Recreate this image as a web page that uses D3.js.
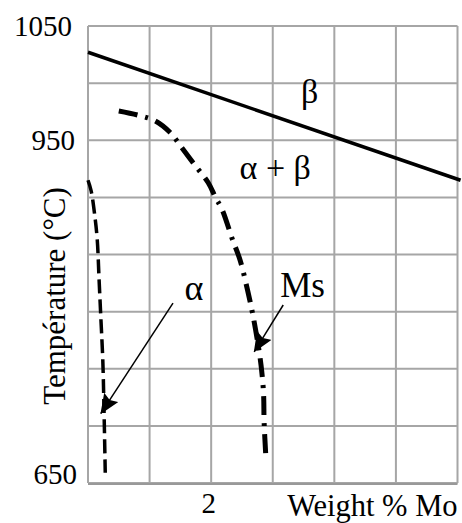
<!DOCTYPE html>
<html><head><meta charset="utf-8">
<script src="https://cdn.jsdelivr.net/npm/d3@7"></script>
<style>
html,body{margin:0;padding:0;background:#fff;}
</style></head>
<body>
<script>
// ---- data ----
const xTickValues = [2];
const yTickValues = [650, 950, 1050];
const xGrid = [0, 1, 2, 3, 4, 5, 6];
const yGrid = [650, 700, 750, 800, 850, 900, 950, 1000, 1050];
const betaMo = [0, 6.05];
const betaT  = [1027, 915];
const msMo = [0.50, 0.81, 1.09, 1.33, 1.53, 1.74, 1.95, 2.07, 2.18, 2.34, 2.47, 2.59, 2.67, 2.75, 2.81, 2.85, 2.86, 2.89];
const msT  = [975.6, 972, 967, 957, 943, 928, 913, 900, 889, 864, 845, 819, 799, 775, 753, 729, 703, 671];
const alphaMo = [0, 0.05, 0.11, 0.15, 0.18, 0.21, 0.24, 0.26, 0.28];
const alphaT  = [915, 906, 884, 863, 828, 793, 758, 714, 659];
const labelText = ["β", "α + β", "α", "Ms"];
const labelMo   = [3.6, 3.04, 1.72, 3.12];
const labelT    = [982.6, 916, 810, 812.8];
const arrowFromMo = [1.38, 3.17];
const arrowFromT  = [807.5, 805.8];
const arrowToMo   = [0.21, 2.70];
const arrowToT    = [711, 765];

const FONT = "Liberation Serif";
const W = 462, H = 523;
const svg = d3.select("body").append("svg").attr("width", W).attr("height", H);
const x = d3.scaleLinear().domain([0, 6]).range([88, 457.5]);
const y = d3.scaleLinear().domain([650, 1050]).range([483, 26]);

// grid
const grid = svg.append("g");
grid.selectAll("line.v").data(xGrid).join("line")
  .attr("x1", d => x(d)).attr("x2", d => x(d)).attr("y1", y(1050)).attr("y2", y(650))
  .attr("stroke", "#a6a6a6").attr("stroke-width", 2);
grid.selectAll("line.h").data(yGrid).join("line")
  .attr("y1", d => y(d)).attr("y2", d => y(d)).attr("x1", x(0)).attr("x2", x(6))
  .attr("stroke", "#a6a6a6").attr("stroke-width", 2);
svg.append("line").attr("x1", x(0)).attr("x2", x(6)).attr("y1", y(650)+1).attr("y2", y(650)+1)
  .attr("stroke", "#999").attr("stroke-width", 2);

// axes (labels only)
const ya = svg.append("g").attr("transform", `translate(${x(0)},0)`)
  .call(d3.axisLeft(y).tickValues(yTickValues).tickSize(0).tickPadding(13).tickFormat(d3.format("d")));
ya.attr("font-family", FONT).attr("font-size", 29);
ya.select(".domain").remove();
ya.selectAll("text").style("font-size", "29px").style("font-family", FONT).attr("fill", "#000");
ya.selectAll(".tick").filter(d => d === 650).select("text").attr("dy", "0em").attr("x", -11);
ya.selectAll(".tick").filter(d => d === 1050).select("text").attr("x", -16);

const xa = svg.append("g").attr("transform", `translate(0,${y(650)})`)
  .call(d3.axisBottom(x).tickValues(xTickValues).tickSize(0).tickPadding(9).tickFormat(d3.format("d")));
xa.attr("font-family", FONT).attr("font-size", 29);
xa.select(".domain").remove();
xa.selectAll("text").style("font-size", "29px").style("font-family", FONT).attr("fill", "#000").attr("dx", "-3");

svg.append("text").attr("x", x(6)).attr("y", 516).attr("text-anchor", "end")
  .style("font-family", FONT).style("font-size", "30.5px").text("Weight % Mo");
svg.append("text").attr("transform", `translate(65,296) rotate(-90)`).attr("text-anchor", "middle")
  .style("font-family", FONT).style("font-size", "31px").text("Température (°C)");

// curves
const line = d3.line().x(d => x(d[0])).y(d => y(d[1]));
svg.append("path").datum(betaMo.map((m, i) => [m, betaT[i]])).attr("d", line)
  .attr("fill", "none").attr("stroke", "#000").attr("stroke-width", 3.5);
const curve = d3.line().x(d => x(d[0])).y(d => y(d[1])).curve(d3.curveCatmullRom);
svg.append("path").datum(msMo.map((m, i) => [m, msT[i]])).attr("d", curve)
  .attr("fill", "none").attr("stroke", "#000").attr("stroke-width", 5)
  .attr("stroke-dasharray", "19,8,3,8");
svg.append("path").datum(alphaMo.map((m, i) => [m, alphaT[i]])).attr("d", curve)
  .attr("fill", "none").attr("stroke", "#000").attr("stroke-width", 3.5)
  .attr("stroke-dasharray", "14,6");

// arrows
svg.append("defs").append("marker").attr("id", "ah")
  .attr("viewBox", "0 0 20 17").attr("refX", 19).attr("refY", 8.5)
  .attr("markerWidth", 20).attr("markerHeight", 17).attr("markerUnits", "userSpaceOnUse")
  .attr("orient", "auto")
  .append("path").attr("d", "M0,0 L20,8.5 L0,17 L3,8.5 Z").attr("fill", "#000");
svg.selectAll("line.arrow").data(arrowFromMo.map((m, i) => i)).join("line")
  .attr("x1", i => x(arrowFromMo[i])).attr("y1", i => y(arrowFromT[i]))
  .attr("x2", i => x(arrowToMo[i])).attr("y2", i => y(arrowToT[i]))
  .attr("stroke", "#000").attr("stroke-width", 1.5).attr("marker-end", "url(#ah)");

// region labels
const sizes = [34, 34, 36, 35];
const anchors = ["middle", "middle", "middle", "start"];
svg.selectAll("text.lab").data(labelText).join("text")
  .attr("x", (d, i) => x(labelMo[i])).attr("y", (d, i) => y(labelT[i]))
  .attr("text-anchor", (d, i) => anchors[i])
  .style("font-family", FONT)
  .style("font-size", (d, i) => sizes[i] + "px").text(d => d);
</script>
</body></html>
